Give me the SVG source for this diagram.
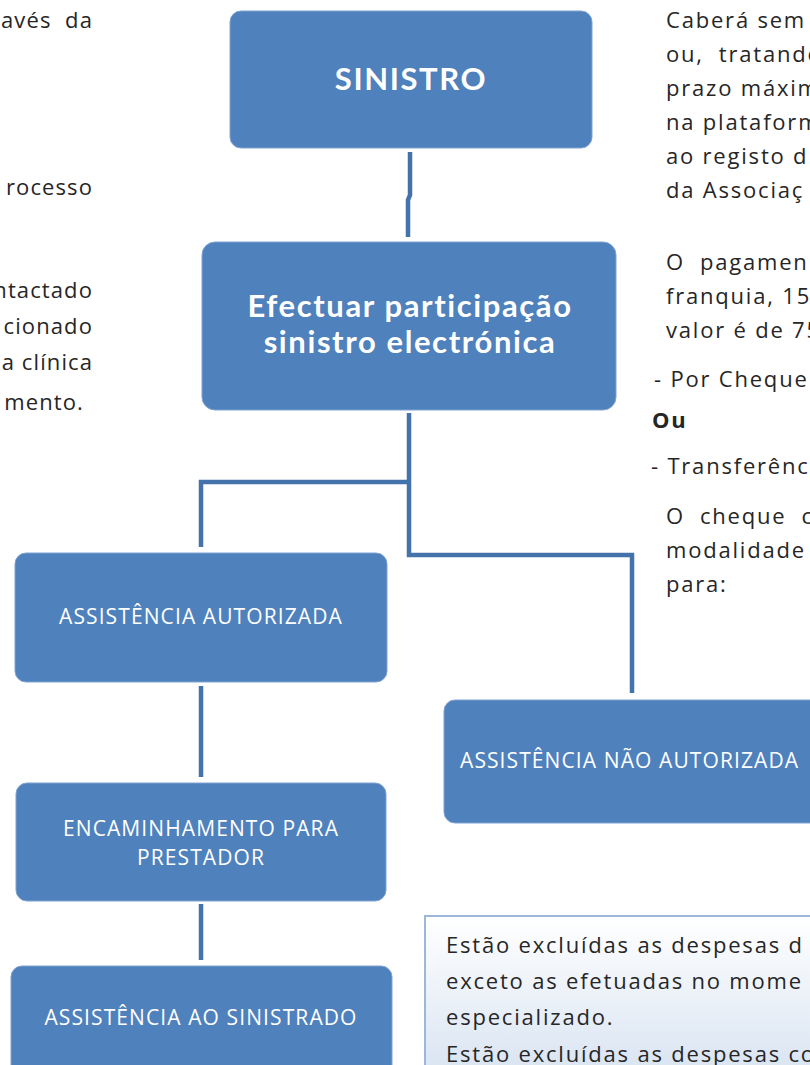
<svg xmlns="http://www.w3.org/2000/svg" width="810" height="1065" viewBox="0 0 810 1065">
<style>
.box{fill:#4F81BD;stroke:#7FA3D1;stroke-width:1}
.conn{fill:none;stroke:#4472AA;stroke-width:4.5}
.big{font-family:Lato,"Noto Sans",sans-serif;font-weight:bold;font-size:31px;letter-spacing:1.6px;fill:#fff;text-anchor:middle}
.lbl{font-family:"Open Sans","Noto Sans",sans-serif;font-size:21px;letter-spacing:1.1px;fill:#fff;text-anchor:middle}
.body{font-family:"Open Sans","Noto Sans",sans-serif;font-size:22px;fill:#262626;letter-spacing:1.8px}
.end{text-anchor:end;letter-spacing:1.1px}
</style>
<defs>
<linearGradient id="note" x1="0" y1="0" x2="0" y2="1">
<stop offset="0" stop-color="#ffffff"/>
<stop offset="1" stop-color="#D6E2F1"/>
</linearGradient>
</defs>

<g id="left-text">
<text class="body end" x="93" y="28" xml:space="preserve">avés  da</text>
<text class="body end" x="93" y="195">rocesso</text>
<text class="body end" x="93" y="298">ntactado</text>
<text class="body end" x="93" y="334">cionado</text>
<text class="body end" x="93" y="370" xml:space="preserve">a clínica</text>
<text class="body end" x="84" y="410">mento.</text>
</g>

<g id="right-text">
<text class="body" x="666" y="28">Caberá sem</text>
<text class="body" x="666" y="62" xml:space="preserve">ou,  tratando</text>
<text class="body" x="666" y="96">prazo máxim</text>
<text class="body" x="666" y="130">na plataform</text>
<text class="body" x="666" y="164">ao registo d</text>
<text class="body" x="666" y="198">da Associaç</text>
<text class="body" x="666" y="270" xml:space="preserve">O  pagamen</text>
<text class="body" x="666" y="304">franquia, 15</text>
<text class="body" x="666" y="338">valor é de 75</text>
<text class="body" x="654" y="387">- Por Cheque</text>
<text class="body" x="652" y="428" font-weight="bold" letter-spacing="0.5">Ou</text>
<text class="body" x="651" y="474">- Transferênc</text>
<text class="body" x="666" y="524" xml:space="preserve">O  cheque  c</text>
<text class="body" x="666" y="558">modalidade</text>
<text class="body" x="666" y="592">para:</text>
</g>

<g id="connectors">
<path class="conn" d="M410 152 V195 L408 200 V237"/>
<path class="conn" d="M409 413 V555 H632 V693"/>
<path class="conn" d="M409 482 H201 V547"/>
<path class="conn" d="M201 686 V777"/>
<path class="conn" d="M201 904 V960"/>
</g>

<g id="sinistro">
<rect class="box" x="230" y="11" width="362" height="137" rx="11"/>
<text class="big" x="411" y="90">SINISTRO</text>
</g>

<g id="efectuar">
<rect class="box" x="202" y="242" width="414" height="168" rx="13"/>
<text class="big" x="410" y="317">Efectuar participação</text>
<text class="big" x="410" y="353">sinistro electrónica</text>
</g>

<g id="autorizada">
<rect class="box" x="15" y="553" width="372" height="129" rx="11"/>
<text class="lbl" x="201" y="624">ASSISTÊNCIA AUTORIZADA</text>
</g>

<g id="encaminhamento">
<rect class="box" x="16" y="783" width="370" height="118" rx="11"/>
<text class="lbl" x="201" y="836">ENCAMINHAMENTO PARA</text>
<text class="lbl" x="201" y="865">PRESTADOR</text>
</g>

<g id="sinistrado">
<rect class="box" x="11" y="966" width="381" height="120" rx="11"/>
<text class="lbl" x="201" y="1025">ASSISTÊNCIA AO SINISTRADO</text>
</g>

<g id="nao-autorizada">
<rect class="box" x="444" y="700" width="400" height="123" rx="11"/>
<text class="lbl" x="460" y="768" style="text-anchor:start">ASSISTÊNCIA NÃO AUTORIZADA</text>
</g>

<g id="note">
<rect x="425" y="916" width="400" height="170" fill="url(#note)" stroke="#9BB7DA" stroke-width="2"/>
<text class="body" x="446" y="953">Estão excluídas as despesas d</text>
<text class="body" x="446" y="989">exceto as efetuadas no mome</text>
<text class="body" x="446" y="1025">especializado.</text>
<text class="body" x="446" y="1062">Estão excluídas as despesas co</text>
</g>
</svg>
